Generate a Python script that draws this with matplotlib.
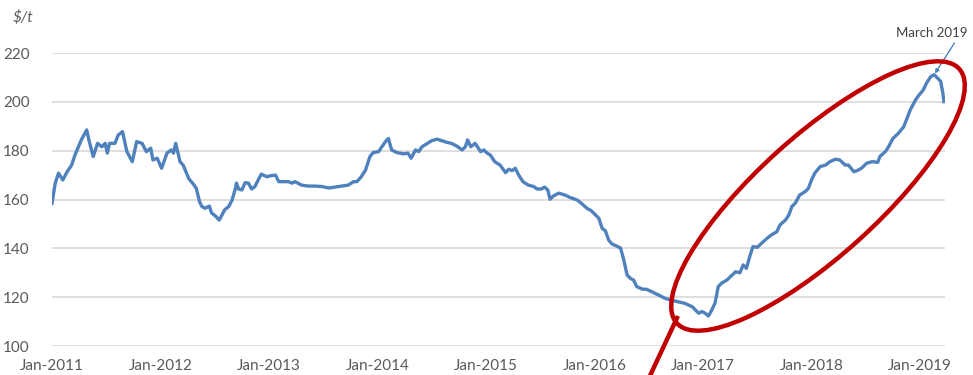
import matplotlib
matplotlib.use("Agg")
import matplotlib.pyplot as plt
from matplotlib.patches import Ellipse
from matplotlib.lines import Line2D

# weekly price, read as decimal year / $ per tonne
yrs = [2011.00, 2011.03, 2011.06, 2011.10, 2011.14, 2011.18, 2011.21, 2011.27, 2011.32, 2011.34,
       2011.38, 2011.42, 2011.46, 2011.49, 2011.51, 2011.53, 2011.58, 2011.61, 2011.65, 2011.69,
       2011.74, 2011.78, 2011.83, 2011.87, 2011.91, 2011.93, 2011.97, 2012.01, 2012.06, 2012.10,
       2012.12, 2012.14, 2012.18, 2012.21, 2012.26, 2012.31, 2012.33, 2012.36, 2012.38, 2012.41,
       2012.45, 2012.47, 2012.51, 2012.54, 2012.56, 2012.59, 2012.63, 2012.66, 2012.69, 2012.70,
       2012.72, 2012.75, 2012.78, 2012.81, 2012.84, 2012.87, 2012.90, 2012.93, 2012.98, 2013.01,
       2013.06, 2013.09, 2013.13, 2013.18, 2013.21, 2013.24, 2013.30, 2013.36, 2013.42, 2013.49,
       2013.55, 2013.61, 2013.67, 2013.73, 2013.78, 2013.81, 2013.85, 2013.89, 2013.93, 2013.96,
       2014.01, 2014.04, 2014.08, 2014.10, 2014.13, 2014.18, 2014.24, 2014.28, 2014.31, 2014.35,
       2014.38, 2014.41, 2014.45, 2014.50, 2014.55, 2014.59, 2014.64, 2014.68, 2014.73, 2014.78,
       2014.81, 2014.83, 2014.86, 2014.90, 2014.93, 2014.95, 2014.98, 2015.01, 2015.04, 2015.08,
       2015.13, 2015.18, 2015.21, 2015.24, 2015.27, 2015.30, 2015.34, 2015.39, 2015.44, 2015.47,
       2015.51, 2015.54, 2015.57, 2015.59, 2015.62, 2015.67, 2015.73, 2015.77, 2015.84, 2015.88,
       2015.93, 2015.97, 2016.00, 2016.04, 2016.07, 2016.10, 2016.13, 2016.16, 2016.20, 2016.24,
       2016.27, 2016.30, 2016.33, 2016.36, 2016.39, 2016.44, 2016.48, 2016.53, 2016.56, 2016.59,
       2016.65, 2016.71, 2016.77, 2016.83, 2016.90, 2016.96, 2016.99, 2017.02, 2017.05, 2017.08,
       2017.11, 2017.14, 2017.17, 2017.22, 2017.27, 2017.30, 2017.34, 2017.37, 2017.40, 2017.43,
       2017.46, 2017.50, 2017.54, 2017.59, 2017.63, 2017.68, 2017.71, 2017.76, 2017.79, 2017.82,
       2017.85, 2017.89, 2017.94, 2017.97, 2018.00, 2018.03, 2018.08, 2018.13, 2018.17, 2018.22,
       2018.26, 2018.31, 2018.34, 2018.39, 2018.42, 2018.46, 2018.51, 2018.56, 2018.61, 2018.63,
       2018.68, 2018.71, 2018.75, 2018.80, 2018.85, 2018.88, 2018.91, 2018.95, 2018.98, 2019.03,
       2019.06, 2019.10, 2019.13, 2019.16, 2019.19, 2019.21, 2019.22]
price = [158.4, 166.7, 170.8, 168.0, 171.4, 174.0, 178.0, 184.4, 188.5, 184.4,
         177.6, 183.0, 181.6, 183.0, 179.0, 183.0, 183.0, 186.4, 187.8, 179.6,
         175.5, 183.7, 183.0, 179.6, 181.0, 176.2, 176.9, 172.8, 179.0, 180.3,
         179.0, 183.0, 175.5, 174.0, 168.6, 165.9, 164.5, 159.1, 157.2, 156.4,
         157.3, 154.5, 153.1, 151.6, 153.1, 155.7, 157.2, 159.8, 164.5, 166.7,
         164.3, 163.9, 166.9, 166.7, 164.3, 165.3, 168.0, 170.4, 169.3, 169.7,
         170.0, 167.3, 167.3, 167.3, 166.7, 167.3, 165.9, 165.5, 165.5, 165.3,
         164.7, 165.1, 165.5, 165.9, 167.3, 167.3, 169.3, 172.1, 177.6, 179.2,
         179.6, 181.6, 184.1, 185.0, 180.3, 179.2, 178.7, 179.0, 176.9, 180.3,
         179.6, 181.6, 182.7, 184.1, 184.7, 184.1, 183.4, 183.0, 181.9, 180.3,
         181.6, 184.4, 181.6, 183.0, 181.0, 179.6, 180.3, 179.0, 178.2, 175.5,
         174.1, 171.0, 172.4, 171.8, 172.8, 170.1, 167.3, 165.9, 165.3, 164.3,
         164.3, 165.1, 163.8, 160.1, 161.4, 162.6, 161.8, 160.9, 159.8, 158.4,
         156.4, 155.4, 154.1, 152.3, 148.2, 147.2, 143.4, 141.8, 141.0, 140.1,
         135.2, 129.1, 127.7, 127.0, 124.3, 123.3, 123.2, 122.2, 121.5, 120.9,
         119.5, 118.8, 118.1, 117.5, 116.1, 113.4, 114.1, 113.4, 112.3, 114.7,
         117.5, 124.3, 125.7, 127.0, 129.1, 130.4, 130.0, 133.2, 131.8, 136.6,
         140.7, 140.4, 142.1, 144.1, 145.5, 146.8, 149.6, 151.6, 153.6, 157.2,
         158.5, 161.8, 163.2, 164.5, 168.0, 170.8, 173.5, 174.1, 175.5, 176.5,
         176.2, 174.1, 174.1, 171.4, 171.8, 172.8, 174.9, 175.5, 175.2, 177.6,
         179.6, 181.6, 185.0, 187.1, 189.8, 193.3, 196.7, 200.1, 202.2, 204.9,
         207.7, 210.4, 211.1, 209.8, 208.4, 203.6, 200.1]

tick_years = list(range(2011, 2020))
tick_labels = ["Jan-%d" % y for y in tick_years]
y_ticks = [100, 120, 140, 160, 180, 200, 220]

plt.rcParams['font.family'] = ['Lato', 'DejaVu Sans']

fig = plt.figure(figsize=(9.73, 3.75), dpi=100)
ax = fig.add_axes([52 / 973, 1 - 346 / 375, (945 - 52) / 973, (346 - 53) / 375])

ax.plot(yrs, price, color='#4F81BD', lw=2.4, solid_joinstyle='round', zorder=3)

ax.set_xlim(2011, 2019.23)
ax.set_ylim(100, 220)
ax.set_xticks(tick_years)
ax.set_xticklabels(tick_labels)
ax.set_yticks(y_ticks)
ax.grid(axis='y', color='#D9D9D9', lw=1.2)
ax.set_axisbelow(True)
for s in ax.spines.values():
    s.set_visible(False)
ax.tick_params(length=0, labelsize=11, labelcolor='#595959')
ax.tick_params(axis='x', pad=9)
ax.tick_params(axis='y', pad=16)

fig.text(23 / 973, 1 - 18 / 375, '$/t', fontsize=11, style='italic',
         color='#595959', ha='center', va='center')

# latest point callout
ax.annotate('March 2019', xy=(2019.13, 211.1), xytext=(2019.11, 228.2),
            fontsize=9.5, color='#404040', ha='center', va='center',
            annotation_clip=False,
            arrowprops=dict(arrowstyle='-|>', color='#4F81BD', lw=1.0,
                            mutation_scale=6, relpos=(0.85, 0.0),
                            shrinkA=1, shrinkB=1))

# red ring around the 2017-2019 recovery, plus pointer line
ring = Ellipse((8.18, 1.79), 3.8, 1.2, angle=42, fill=False,
               edgecolor='#C00000', lw=3.2, transform=fig.dpi_scale_trans, zorder=5)
fig.add_artist(ring)
fig.add_artist(Line2D([6.77, 6.48], [0.57, -0.05], color='#C00000', lw=3.2,
                      transform=fig.dpi_scale_trans, zorder=5))

fig.savefig('out.png', dpi=100)
